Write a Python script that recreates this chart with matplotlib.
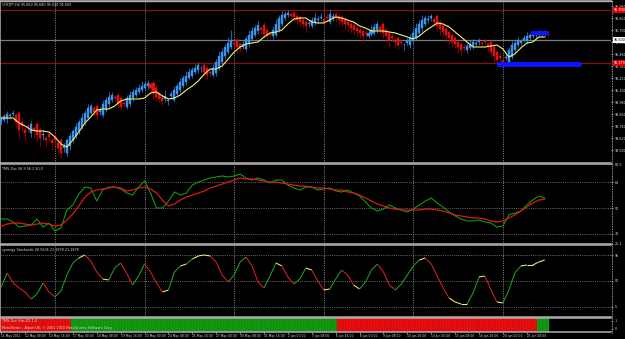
import numpy as np
import matplotlib
matplotlib.use("Agg")
import matplotlib.pyplot as plt
from matplotlib.collections import LineCollection
from matplotlib.lines import Line2D
import matplotlib.transforms as mtransforms

# ---------------- data ----------------
symbol_title = "CHFJPY,H4 95.660 95.680 95.630 95.650"
tms_title = "TMS-Osc 56.9 56.2 50.0"
stoch_title = "synergy Stochastic 26.5636 21.1878 21.1878"
hist_title = "TMS-Osc Hist.D1 1.0"
footer = "MetaTrader - Alpari UK, \u00a9 2001-2010 MetaQuotes Software Corp."

closes = [
    94.81, 94.84, 94.86, 94.85, 94.87, 94.78, 94.70, 94.74, 94.67, 94.72,
    94.76, 94.70, 94.65, 94.62, 94.66, 94.60, 94.63, 94.57, 94.60, 94.52,
    94.47, 94.54, 94.60, 94.64, 94.69, 94.73, 94.78, 94.82, 94.87, 94.92,
    94.94, 94.88, 94.85, 94.90, 94.96, 95.00, 95.03, 95.05, 95.02, 94.97,
    94.93, 94.96, 95.02, 95.05, 95.08, 95.10, 95.12, 95.14, 95.16, 95.17,
    95.12, 95.07, 95.03, 95.01, 94.99, 95.04, 95.00, 95.06, 95.10, 95.14,
    95.18, 95.22, 95.24, 95.28, 95.30, 95.32, 95.35, 95.32, 95.28, 95.25,
    95.27, 95.32, 95.38, 95.44, 95.48, 95.53, 95.57, 95.60, 95.56, 95.53,
    95.51, 95.56, 95.61, 95.65, 95.69, 95.72, 95.75, 95.70, 95.66, 95.64,
    95.65, 95.70, 95.76, 95.82, 95.85, 95.86, 95.87, 95.84, 95.83, 95.80,
    95.78, 95.76, 95.74, 95.77, 95.80, 95.82, 95.81, 95.83, 95.78, 95.82,
    95.86, 95.84, 95.83, 95.80, 95.78, 95.76, 95.75, 95.72, 95.70, 95.69,
    95.67, 95.64, 95.66, 95.67, 95.70, 95.73, 95.76, 95.70, 95.67, 95.64,
    95.60, 95.62, 95.58, 95.55, 95.57, 95.55, 95.59, 95.62, 95.67, 95.72,
    95.76, 95.80, 95.82, 95.81, 95.84, 95.78, 95.74, 95.71, 95.68, 95.65,
    95.62, 95.58, 95.56, 95.53, 95.50, 95.52, 95.54, 95.56, 95.58, 95.57,
    95.59, 95.56, 95.58, 95.53, 95.48, 95.44, 95.40, 95.42, 95.38, 95.43,
    95.50, 95.55, 95.57, 95.60, 95.59, 95.62, 95.64, 95.65, 95.66, 95.65,
    95.67, 95.66, 95.67, 95.65,
]
opens = [
    94.78, 94.80, 94.81, 94.84, 94.86, 94.85, 94.87, 94.78, 94.70, 94.74,
    94.67, 94.72, 94.76, 94.70, 94.65, 94.62, 94.66, 94.60, 94.63, 94.57,
    94.60, 94.52, 94.47, 94.54, 94.60, 94.64, 94.69, 94.73, 94.78, 94.82,
    94.87, 94.92, 94.94, 94.88, 94.85, 94.90, 94.96, 95.00, 95.03, 95.05,
    95.02, 94.97, 94.93, 94.96, 95.02, 95.05, 95.08, 95.10, 95.12, 95.14,
    95.16, 95.17, 95.12, 95.07, 95.03, 95.01, 94.99, 95.04, 95.00, 95.06,
    95.10, 95.14, 95.18, 95.22, 95.24, 95.28, 95.30, 95.32, 95.35, 95.32,
    95.28, 95.25, 95.27, 95.32, 95.38, 95.44, 95.48, 95.53, 95.57, 95.60,
    95.56, 95.53, 95.51, 95.56, 95.61, 95.65, 95.69, 95.72, 95.75, 95.70,
    95.66, 95.64, 95.65, 95.70, 95.76, 95.82, 95.85, 95.86, 95.87, 95.84,
    95.83, 95.80, 95.78, 95.76, 95.74, 95.77, 95.80, 95.82, 95.81, 95.83,
    95.78, 95.82, 95.86, 95.84, 95.83, 95.80, 95.78, 95.76, 95.75, 95.72,
    95.70, 95.69, 95.67, 95.64, 95.66, 95.67, 95.70, 95.73, 95.76, 95.70,
    95.67, 95.64, 95.60, 95.62, 95.58, 95.55, 95.57, 95.55, 95.59, 95.62,
    95.67, 95.72, 95.76, 95.80, 95.82, 95.81, 95.84, 95.78, 95.74, 95.71,
    95.68, 95.65, 95.62, 95.58, 95.56, 95.53, 95.50, 95.52, 95.54, 95.56,
    95.58, 95.57, 95.59, 95.56, 95.58, 95.53, 95.48, 95.44, 95.40, 95.42,
    95.38, 95.43, 95.50, 95.55, 95.57, 95.60, 95.59, 95.62, 95.64, 95.65,
    95.66, 95.65, 95.67, 95.66,
]
# wick lengths beyond the candle body, in pips
wick_up_pips = [
    3, 2, 3, 2, 3, 2, 2, 4, 2, 3, 3, 2, 2, 3, 4, 2, 3, 2, 4, 2,
    2, 3, 2, 3, 2, 4, 3, 5, 3, 4, 3, 2, 2, 3, 4, 3, 5, 3, 2, 2,
    2, 3, 3, 4, 3, 3, 4, 5, 3, 3, 2, 2, 3, 2, 3, 6, 2, 3, 4, 3,
    4, 3, 5, 4, 3, 4, 3, 2, 2, 3, 3, 4, 3, 5, 4, 3, 6, 10, 3, 2,
    2, 4, 3, 5, 4, 3, 4, 2, 3, 2, 3, 4, 5, 3, 4, 3, 3, 2, 2, 3,
    2, 2, 3, 4, 3, 5, 3, 4, 3, 4, 5, 3, 2, 2, 2, 3, 2, 2, 3, 2,
    2, 3, 3, 4, 5, 4, 3, 2, 2, 3, 2, 3, 2, 2, 3, 2, 3, 4, 4, 5,
    4, 5, 3, 4, 2, 2, 3, 2, 2, 3, 2, 2, 2, 3, 2, 3, 3, 4, 3, 3,
    3, 2, 3, 2, 2, 2, 2, 3, 2, 4, 3, 4, 3, 3, 2, 3, 4, 2, 2, 3,
    3, 2, 3, 2,
]
wick_dn_pips = [
    3, 2, 4, 3, 2, 6, 9, 5, 8, 5, 4, 7, 6, 8, 5, 6, 4, 7, 5, 6,
    5, 4, 3, 4, 3, 2, 3, 2, 3, 2, 2, 4, 5, 3, 2, 2, 3, 2, 4, 5,
    4, 3, 2, 2, 3, 2, 2, 2, 2, 3, 5, 6, 4, 3, 4, 3, 4, 3, 2, 2,
    3, 2, 3, 2, 2, 2, 3, 4, 5, 4, 3, 2, 3, 2, 2, 3, 2, 2, 4, 5,
    3, 2, 2, 3, 2, 2, 3, 4, 4, 3, 2, 3, 2, 2, 2, 2, 2, 3, 5, 4,
    5, 4, 6, 3, 2, 2, 3, 2, 5, 3, 2, 3, 4, 5, 4, 6, 7, 5, 4, 6,
    5, 7, 3, 2, 2, 2, 3, 4, 5, 6, 7, 3, 5, 4, 3, 5, 2, 3, 2, 2,
    2, 3, 2, 3, 3, 4, 5, 6, 5, 7, 6, 5, 4, 6, 5, 3, 3, 2, 3, 2,
    3, 3, 2, 4, 5, 6, 5, 4, 3, 2, 3, 2, 3, 2, 2, 2, 3, 2, 2, 3,
    2, 2, 3, 2,
]

# indicator series sampled every second bar
ind_bars = list(range(0, 184, 2))
ma_values = [
    94.82, 94.82, 94.82, 94.77, 94.74, 94.70, 94.69, 94.69, 94.68, 94.63,
    94.56, 94.53, 94.60, 94.68, 94.77, 94.83, 94.90, 94.91, 94.91, 94.94,
    94.99, 95.01, 95.01, 95.01, 95.02, 95.07, 95.08, 95.04, 95.01, 95.02,
    95.05, 95.10, 95.14, 95.19, 95.26, 95.31, 95.31, 95.34, 95.41, 95.48,
    95.53, 95.56, 95.57, 95.58, 95.63, 95.67, 95.68, 95.70, 95.76, 95.81,
    95.82, 95.82, 95.78, 95.77, 95.77, 95.80, 95.83, 95.82, 95.80, 95.78,
    95.74, 95.72, 95.69, 95.69, 95.69, 95.68, 95.67, 95.65, 95.63, 95.61,
    95.64, 95.69, 95.73, 95.77, 95.76, 95.73, 95.68, 95.63, 95.58, 95.53,
    95.53, 95.53, 95.54, 95.55, 95.51, 95.43, 95.46, 95.52, 95.57, 95.58,
    95.63, 95.63,
]
tms_fast = [
    42.4, 42.4, 40.3, 36.8, 37.5, 38.2, 42.4, 36.8, 39.6, 34.1,
    36.2, 48.6, 52.1, 59.7, 64.5, 63.9, 54.8, 62.5, 64.5, 64.5,
    63.2, 60.4, 59.0, 64.5, 68.7, 60.4, 50.0, 50.0, 54.8, 61.1,
    59.0, 60.4, 65.9, 68.0, 69.4, 70.8, 71.5, 72.2, 71.5, 72.2,
    73.5, 70.8, 69.4, 70.8, 69.4, 67.3, 69.4, 69.4, 65.9, 63.9,
    62.5, 64.5, 64.5, 62.5, 63.2, 63.9, 61.8, 61.1, 62.5, 60.4,
    58.3, 54.2, 50.0, 47.9, 49.3, 52.1, 50.0, 48.6, 47.2, 49.3,
    52.1, 54.8, 56.9, 53.5, 50.7, 47.2, 44.5, 42.4, 41.0, 41.0,
    41.7, 40.3, 39.6, 36.8, 37.5, 45.2, 46.5, 47.9, 52.1, 55.5,
    58.3, 56.9,
]
tms_slow = [
    37.5, 38.9, 39.6, 39.6, 38.9, 38.2, 38.9, 39.6, 38.9, 37.5,
    38.2, 41.7, 45.8, 51.4, 57.6, 61.1, 62.5, 63.2, 63.9, 64.5,
    63.9, 61.8, 62.5, 63.9, 64.5, 63.2, 60.4, 55.5, 51.4, 52.8,
    55.5, 57.6, 59.0, 60.4, 61.8, 63.9, 65.2, 66.6, 68.0, 69.4,
    70.8, 70.1, 70.1, 69.4, 68.7, 68.0, 68.0, 67.3, 66.6, 65.9,
    65.2, 65.2, 64.5, 63.9, 63.9, 63.2, 62.5, 62.5, 61.1, 60.4,
    59.0, 56.9, 54.8, 52.8, 51.4, 50.0, 49.3, 48.6, 48.6, 48.6,
    48.6, 49.3, 49.3, 48.6, 47.9, 46.5, 45.2, 44.5, 43.8, 43.1,
    43.1, 42.4, 41.0, 40.3, 41.0, 43.1, 45.2, 47.9, 50.7, 53.5,
    55.5, 56.2,
]
stoch_values = [
    39.4, 64.1, 46.5, 37.7, 30.6, 18.2, 27.1, 46.5, 30.6, 21.8,
    32.4, 60.6, 81.8, 90.6, 95.9, 85.3, 65.9, 53.5, 51.8, 72.9,
    81.8, 64.1, 42.9, 58.8, 80.0, 65.9, 46.5, 30.6, 34.1, 65.9,
    76.5, 80.0, 88.8, 94.1, 95.9, 94.1, 83.5, 60.6, 48.2, 60.6,
    83.5, 92.3, 76.5, 48.2, 37.7, 58.8, 81.8, 76.5, 57.1, 44.7,
    53.5, 72.9, 69.4, 50.0, 34.1, 35.9, 53.5, 69.4, 60.6, 42.9,
    35.9, 48.2, 69.4, 80.0, 65.9, 42.9, 34.1, 44.7, 60.6, 76.5,
    87.0, 90.6, 80.0, 58.8, 37.7, 20.0, 13.0, 9.4, 9.4, 28.8,
    57.1, 58.8, 34.1, 13.0, 11.2, 34.1, 64.1, 76.5, 78.2, 78.2,
    83.5, 87.0,
]
# TMS-Osc Hist.D1: (state, number of bars)  -1 = red, 1 = green
hist_runs = [(-1, 24), (1, 89), (-1, 67), (1, 4)]

week_start_bars = [18, 48, 78, 108, 138, 168]
date_tick_bars = list(range(0, 184, 8))
date_labels = [
    "11 May 2011", "12 May 08:00", "13 May 16:00", "17 May 00:00",
    "18 May 08:00", "19 May 16:00", "23 May 00:00", "24 May 08:00",
    "25 May 16:00", "27 May 00:00", "30 May 08:00", "31 May 16:00",
    "2 Jun 00:00", "3 Jun 08:00", "6 Jun 16:00", "8 Jun 00:00",
    "9 Jun 08:00", "10 Jun 16:00", "14 Jun 00:00", "15 Jun 08:00",
    "16 Jun 16:00", "20 Jun 00:00", "21 Jun 08:00",
]
level_high_red = 95.90
level_low_red = 95.37
bid_price = 95.60
blue_zone_level = 95.365
blue_zone_bars = (166, 194)
blue_box = (178, 183, 95.65, 95.69)
tms_levels = [68, 50, 32]
stoch_levels = [95, 50, 5]

# ---------------- styling ----------------
BG = "black"
TXT = "#d8d8d8"
FS = 2.4
FS_DATE = 2.15
UP_BODY, UP_WICK = "#3b93ee", "#2f7fd6"
DN_BODY, DN_WICK = "#e01010", "#a80000"

W, H = 625, 339
fig = plt.figure(figsize=(W / 100, H / 100), dpi=100, facecolor=BG)


def rect(top, bottom, right=611):
    return [0.0, 1 - bottom / H, right / W, (bottom - top) / H]


ax_main = fig.add_axes(rect(1, 163))
ax_tms = fig.add_axes(rect(164, 244))
ax_sto = fig.add_axes(rect(245, 317))
ax_hist = fig.add_axes(rect(318, 332))
axes = [ax_main, ax_tms, ax_sto, ax_hist]

n = len(closes)
XLIM = (-0.4, 204.2)
for ax in axes:
    ax.set_facecolor(BG)
    ax.set_xlim(*XLIM)
    for side in ("top", "bottom", "left"):
        ax.spines[side].set_color("#b0b0b0")
        ax.spines[side].set_linewidth(1.1)
    ax.spines["right"].set_visible(False)
    ax.yaxis.tick_right()
    ax.tick_params(axis="y", direction="out", length=1.5, width=0.4,
                   colors=TXT, labelsize=FS, pad=1.0)
    ax.tick_params(axis="x", length=0)
    ax.set_xticks([])
    for b in week_start_bars:
        ax.axvline(b, color="#a0a0a0", lw=0.6, ls=(0, (1.2, 1.6)), zorder=0)

# ---- main price panel ----
x = np.arange(n)
o = np.array(opens)
c = np.array(closes)
hi = np.maximum(o, c) + np.array(wick_up_pips) / 100.0
lo = np.minimum(o, c) - np.array(wick_dn_pips) / 100.0
up = c >= o
dn = ~up
ax_main.set_ylim(94.37, 95.99)
ax_main.axhline(level_high_red, color="#8a1010", lw=0.9, zorder=1)
ax_main.axhline(level_low_red, color="#8a1010", lw=0.9, zorder=1)
ax_main.axhline(bid_price, color="#7a7a7a", lw=0.9, zorder=1)
ax_main.vlines(x[up], lo[up], hi[up], color=UP_WICK, lw=0.55, zorder=2)
ax_main.vlines(x[dn], lo[dn], hi[dn], color=DN_WICK, lw=0.55, zorder=2)
ax_main.bar(x[up], (c - o)[up], bottom=o[up], width=0.68, color=UP_BODY,
            edgecolor=UP_BODY, lw=0.3, zorder=3)
ax_main.bar(x[dn], (c - o)[dn], bottom=o[dn], width=0.68, color=DN_BODY,
            edgecolor=DN_BODY, lw=0.3, zorder=3)
ax_main.plot(ind_bars, ma_values, color="#f4ee78", lw=0.8, zorder=4)
ax_main.hlines(blue_zone_level, blue_zone_bars[0], blue_zone_bars[1],
               color="#0a14ff", lw=3.6, zorder=5)
ax_main.add_patch(plt.Rectangle((blue_box[0] - 0.5, blue_box[2]),
                                blue_box[1] - blue_box[0] + 1,
                                blue_box[3] - blue_box[2],
                                facecolor="#0a14ff", edgecolor="none", zorder=5))
ticks = [95.94 - 0.12 * k for k in range(13)]
ax_main.set_yticks(ticks)
ax_main.set_yticklabels([f"{t:.3f}" for t in ticks])
ax_main.text(0.004, 0.985, symbol_title, transform=ax_main.transAxes,
             color=TXT, fontsize=FS, va="top", ha="left")
btr = mtransforms.blended_transform_factory(ax_main.transAxes, ax_main.transData)
for lvl, fc, tc in [(level_high_red, "#e00000", "white"),
                    (level_low_red, "#e00000", "white"),
                    (bid_price, "white", "black")]:
    ax_main.text(1.004, lvl, f"{lvl:.3f}", transform=btr, fontsize=FS,
                 color=tc, va="center", ha="left", zorder=10, clip_on=False,
                 bbox=dict(facecolor=fc, edgecolor="none", pad=0.6))

# ---- TMS oscillator ----
ax_tms.set_ylim(25.07, 80.47)
for lv in tms_levels:
    ax_tms.axhline(lv, color="#8a8a8a", lw=0.55, ls=(0, (1.2, 1.6)), zorder=0)
ax_tms.plot(ind_bars, tms_fast, color="#0f9a0f", lw=0.8, zorder=3)
ax_tms.plot(ind_bars, tms_slow, color="#e01818", lw=0.9, zorder=4)
ax_tms.set_yticks(tms_levels + [80.5, 25.1])
ax_tms.set_yticklabels([str(v) for v in tms_levels] + ["80.5", "25.1"])
ax_tms.text(0.004, 0.965, tms_title, transform=ax_tms.transAxes,
            color=TXT, fontsize=FS, va="top", ha="left")

# ---- Synergy stochastic ----
ax_sto.set_ylim(-13.5, 113.5)
for lv in stoch_levels:
    ax_sto.axhline(lv, color="#8a8a8a", lw=0.55, ls=(0, (1.2, 1.6)), zorder=0)
sv = np.array(stoch_values)
pts = np.column_stack([ind_bars, sv])
segs = np.stack([pts[:-1], pts[1:]], axis=1)
dv = np.diff(sv)
seg_colors = ["#22a022" if d > 7 else ("#d82020" if d < -7 else "#f4ee78")
              for d in dv]
ax_sto.add_collection(LineCollection(segs, colors=seg_colors, lw=0.75, zorder=3))
ax_sto.set_yticks(stoch_levels)
ax_sto.set_yticklabels([str(v) for v in stoch_levels])
ax_sto.text(0.004, 0.955, stoch_title, transform=ax_sto.transAxes,
            color=TXT, fontsize=FS, va="top", ha="left")

# ---- histogram ----
ax_hist.set_ylim(0, 1)
start = 0
for state, length in hist_runs:
    xs = np.arange(start, start + length)
    col = "#ee0d0d" if state < 0 else "#139a13"
    edge = "#b00808" if state < 0 else "#0d7a0d"
    ax_hist.bar(xs, np.ones(length), width=1.0, color=col, edgecolor=edge,
                lw=0.25, zorder=2)
    start += length
ax_hist.set_yticks([0.25, 0.8])
ax_hist.set_yticklabels(["0", "1"])
ax_hist.text(0.004, 0.95, hist_title, transform=ax_hist.transAxes,
             color=TXT, fontsize=FS, va="top", ha="left", zorder=5)
ax_hist.text(0.004, 0.45, footer, transform=ax_hist.transAxes,
             color=TXT, fontsize=FS, va="top", ha="left", zorder=5)
ax_hist.set_xticks(date_tick_bars)
ax_hist.set_xticklabels(date_labels, ha="left")
ax_hist.tick_params(axis="x", direction="out", length=1.2, width=0.4,
                    colors=TXT, labelsize=FS_DATE, pad=0.6)

# right-hand axis dotted line and top border
fig.add_artist(Line2D([611.5 / W, 611.5 / W], [1 - 333 / H, 1.0],
                      transform=fig.transFigure, color="#c8c8c8", lw=0.6,
                      ls=(0, (1, 1))))
fig.add_artist(Line2D([0, 611.5 / W], [1 - 0.6 / H, 1 - 0.6 / H],
                      transform=fig.transFigure, color="#b0b0b0", lw=1.0))

fig.savefig("out.png", dpi=100, facecolor=BG)
